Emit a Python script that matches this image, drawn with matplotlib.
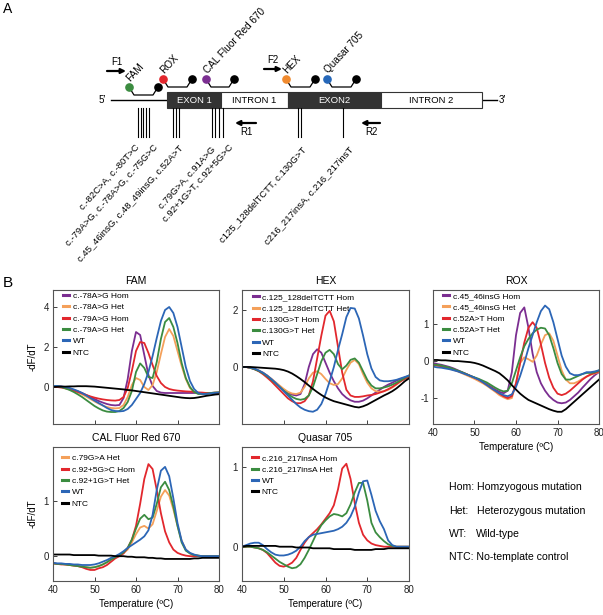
import numpy as np
import matplotlib
matplotlib.use('Agg')
import matplotlib.pyplot as plt
from matplotlib.patches import Rectangle

plt.rcParams['font.family'] = ['Liberation Sans', 'DejaVu Sans']
plt.rcParams['axes.unicode_minus'] = False

# ---------------- data: melting curves, -dF/dT sampled every 1 degC ----------------
temps = np.arange(40, 81)

fam_labels = ['c.-78A>G Hom', 'c.-78A>G Het', 'c.-79A>G Hom', 'c.-79A>G Het', 'WT', 'NTC']
fam_78_hom = [0.05, 0.05, 0.02, -0.02, -0.08, -0.15, -0.22, -0.30, -0.40, -0.50,
              -0.60, -0.70, -0.78, -0.85, -0.90, -0.92, -0.90, -0.55, 0.40, 1.80,
              2.75, 2.60, 1.60, 0.60, 0.05, -0.20, -0.28, -0.30, -0.30, -0.30,
              -0.30, -0.30, -0.30, -0.30, -0.30, -0.30, -0.30, -0.30, -0.30, -0.28, -0.27]
fam_78_het = [0.05, 0.05, 0.02, -0.03, -0.10, -0.18, -0.27, -0.37, -0.48, -0.60,
              -0.72, -0.83, -0.93, -1.00, -1.05, -1.07, -1.05, -0.90, -0.50, 0.10,
              0.45, 0.35, 0.00, -0.15, 0.10, 0.75, 1.65, 2.50, 2.90, 2.55,
              1.80, 1.05, 0.40, -0.05, -0.25, -0.32, -0.33, -0.32, -0.30, -0.28, -0.27]
fam_79_hom = [0.03, 0.00, -0.03, -0.07, -0.12, -0.18, -0.25, -0.32, -0.40, -0.47,
              -0.53, -0.58, -0.62, -0.65, -0.67, -0.68, -0.65, -0.50, -0.05, 0.80,
              1.80, 2.25, 2.20, 1.70, 1.10, 0.55, 0.20, 0.00, -0.10, -0.15,
              -0.18, -0.20, -0.22, -0.23, -0.25, -0.27, -0.28, -0.30, -0.30, -0.30, -0.30]
fam_79_het = [0.05, 0.05, 0.00, -0.07, -0.15, -0.25, -0.37, -0.50, -0.65, -0.80,
              -0.95, -1.07, -1.17, -1.23, -1.25, -1.25, -1.20, -1.05, -0.75, -0.20,
              0.75, 1.18, 0.95, 0.50, 0.45, 1.25, 2.40, 3.25, 3.45, 3.00,
              2.20, 1.20, 0.45, 0.00, -0.25, -0.35, -0.35, -0.33, -0.30, -0.28, -0.27]
fam_wt = [0.05, 0.05, 0.03, 0.00, -0.05, -0.12, -0.20, -0.30, -0.42, -0.55,
          -0.68, -0.80, -0.92, -1.05, -1.15, -1.20, -1.22, -1.20, -1.10, -0.90,
          -0.60, -0.30, 0.15, 0.75, 1.55, 2.45, 3.30, 3.85, 4.00, 3.70,
          3.00, 2.00, 1.00, 0.30, -0.10, -0.30, -0.35, -0.35, -0.32, -0.30, -0.28]
fam_ntc = [0.00, 0.01, 0.02, 0.02, 0.03, 0.03, 0.04, 0.04, 0.04, 0.03,
           0.02, 0.00, -0.02, -0.04, -0.06, -0.08, -0.10, -0.12, -0.15, -0.17,
           -0.20, -0.23, -0.26, -0.29, -0.32, -0.35, -0.38, -0.41, -0.44, -0.47,
           -0.50, -0.53, -0.55, -0.56, -0.55, -0.52, -0.48, -0.44, -0.41, -0.38, -0.36]

hex_labels = ['c.125_128delTCTT Hom', 'c.125_128delTCTT Het', 'c.130G>T Hom', 'c.130G>T Het', 'WT', 'NTC']
hex_del_hom = [0.00, 0.00, -0.03, -0.07, -0.13, -0.20, -0.30, -0.42, -0.55, -0.68,
               -0.80, -0.90, -0.97, -1.00, -0.95, -0.60, 0.00, 0.45, 0.62, 0.50,
               0.15, -0.20, -0.50, -0.75, -0.95, -1.08, -1.17, -1.22, -1.22, -1.18,
               -1.10, -1.00, -0.90, -0.80, -0.70, -0.62, -0.55, -0.48, -0.42, -0.37, -0.32]
hex_del_het = [0.00, 0.00, -0.03, -0.07, -0.13, -0.20, -0.30, -0.41, -0.53, -0.65,
               -0.77, -0.87, -0.93, -0.95, -0.90, -0.70, -0.40, -0.20, -0.15, -0.25,
               -0.42, -0.57, -0.63, -0.60, -0.40, -0.10, 0.15, 0.25, 0.10, -0.25,
               -0.55, -0.75, -0.85, -0.87, -0.85, -0.80, -0.72, -0.62, -0.50, -0.40, -0.30]
hex_130_hom = [0.00, 0.00, -0.03, -0.08, -0.15, -0.25, -0.37, -0.50, -0.65, -0.80,
               -0.95, -1.10, -1.20, -1.27, -1.27, -1.20, -1.00, -0.50, 0.30, 1.10,
               1.80, 1.97, 1.60, 0.70, -0.20, -0.80, -1.00, -1.05, -1.05, -1.03,
               -1.00, -0.98, -0.95, -0.90, -0.85, -0.78, -0.70, -0.60, -0.50, -0.42, -0.35]
hex_130_het = [0.00, 0.00, -0.03, -0.08, -0.14, -0.22, -0.32, -0.44, -0.57, -0.70,
               -0.83, -0.95, -1.05, -1.12, -1.15, -1.12, -1.00, -0.70, -0.25, 0.20,
               0.50, 0.60, 0.45, 0.10, -0.08, 0.05, 0.25, 0.30, 0.15, -0.15,
               -0.45, -0.65, -0.75, -0.75, -0.72, -0.68, -0.62, -0.55, -0.47, -0.38, -0.30]
hex_wt = [0.00, 0.00, -0.02, -0.06, -0.12, -0.20, -0.30, -0.42, -0.55, -0.70,
          -0.85, -1.00, -1.15, -1.30, -1.42, -1.50, -1.55, -1.57, -1.50, -1.30,
          -0.95, -0.50, 0.00, 0.60, 1.15, 1.75, 2.07, 2.05, 1.70, 1.10,
          0.45, -0.05, -0.35, -0.47, -0.50, -0.50, -0.48, -0.45, -0.40, -0.35, -0.30]
hex_ntc = [0.00, 0.00, 0.00, -0.01, -0.02, -0.03, -0.04, -0.05, -0.06, -0.08,
           -0.11, -0.16, -0.23, -0.32, -0.42, -0.53, -0.65, -0.77, -0.88, -0.98,
           -1.07, -1.14, -1.20, -1.24, -1.28, -1.32, -1.36, -1.40, -1.42, -1.38,
           -1.32, -1.24, -1.16, -1.08, -1.00, -0.93, -0.85, -0.75, -0.63, -0.50, -0.40]

rox_labels = ['c.45_46insG Hom', 'c.45_46insG Het', 'c.52A>T Hom', 'c.52A>T Het', 'WT', 'NTC']
rox_ins_hom = [-0.05, -0.08, -0.10, -0.13, -0.16, -0.20, -0.25, -0.30, -0.35, -0.40,
               -0.45, -0.50, -0.57, -0.63, -0.70, -0.77, -0.83, -0.87, -0.80, -0.30,
               0.70, 1.30, 1.45, 0.90, 0.20, -0.30, -0.60, -0.80, -0.95, -1.05,
               -1.12, -1.14, -1.12, -1.05, -0.95, -0.85, -0.72, -0.60, -0.48, -0.38, -0.30]
rox_ins_het = [-0.10, -0.12, -0.14, -0.17, -0.20, -0.24, -0.28, -0.33, -0.38, -0.43,
               -0.48, -0.54, -0.60, -0.67, -0.75, -0.83, -0.92, -0.98, -1.03, -1.00,
               -0.60, -0.05, 0.10, 0.05, -0.02, 0.15, 0.45, 0.70, 0.75, 0.55,
               0.15, -0.25, -0.50, -0.60, -0.60, -0.55, -0.48, -0.42, -0.37, -0.33, -0.30]
rox_52_hom = [-0.10, -0.12, -0.14, -0.17, -0.20, -0.23, -0.27, -0.31, -0.35, -0.40,
              -0.45, -0.50, -0.57, -0.64, -0.72, -0.80, -0.88, -0.95, -1.00, -0.95,
              -0.60, -0.05, 0.50, 0.90, 1.05, 0.90, 0.45, -0.05, -0.45, -0.72,
              -0.88, -0.92, -0.88, -0.80, -0.70, -0.60, -0.50, -0.42, -0.36, -0.32, -0.28]
rox_52_het = [-0.10, -0.10, -0.12, -0.15, -0.18, -0.22, -0.26, -0.30, -0.35, -0.40,
              -0.44, -0.48, -0.53, -0.58, -0.65, -0.72, -0.78, -0.82, -0.80, -0.60,
              -0.25, 0.10, 0.40, 0.60, 0.75, 0.85, 0.90, 0.88, 0.70, 0.35,
              -0.05, -0.35, -0.50, -0.50, -0.45, -0.40, -0.35, -0.32, -0.32, -0.30, -0.25]
rox_wt = [-0.15, -0.17, -0.18, -0.20, -0.22, -0.25, -0.28, -0.32, -0.36, -0.40,
          -0.45, -0.50, -0.57, -0.65, -0.73, -0.80, -0.87, -0.92, -0.95, -0.90,
          -0.70, -0.40, -0.05, 0.35, 0.70, 1.05, 1.35, 1.50, 1.40, 1.05,
          0.60, 0.15, -0.15, -0.33, -0.38, -0.38, -0.35, -0.30, -0.30, -0.28, -0.25]
rox_ntc = [0.03, 0.03, 0.02, 0.02, 0.01, 0.00, 0.00, -0.01, -0.02, -0.03,
           -0.05, -0.08, -0.12, -0.17, -0.22, -0.27, -0.33, -0.42, -0.52, -0.65,
           -0.77, -0.88, -0.97, -1.05, -1.10, -1.15, -1.20, -1.25, -1.30, -1.34,
           -1.37, -1.37, -1.30, -1.20, -1.10, -1.00, -0.90, -0.80, -0.70, -0.60, -0.50]

cal_labels = ['c.79G>A Het', 'c.92+5G>C Hom', 'c.92+1G>T Het', 'WT', 'NTC']
cal_79_het = [-0.13, -0.14, -0.14, -0.15, -0.16, -0.17, -0.18, -0.19, -0.20, -0.21,
              -0.20, -0.18, -0.15, -0.11, -0.06, -0.02, 0.02, 0.06, 0.12, 0.25,
              0.40, 0.52, 0.55, 0.50, 0.58, 0.82, 1.08, 1.20, 1.10, 0.85,
              0.55, 0.28, 0.12, 0.05, 0.02, 0.01, 0.00, 0.00, 0.00, 0.00, 0.00]
cal_92_5_hom = [-0.13, -0.14, -0.15, -0.15, -0.16, -0.17, -0.18, -0.20, -0.23, -0.25,
                -0.25, -0.22, -0.20, -0.16, -0.10, -0.04, 0.00, 0.05, 0.15, 0.30,
                0.55, 0.95, 1.40, 1.67, 1.58, 1.20, 0.78, 0.45, 0.25, 0.12,
                0.06, 0.03, 0.01, 0.00, 0.00, 0.00, 0.00, 0.00, 0.00, 0.00, 0.00]
cal_92_1_het = [-0.13, -0.14, -0.14, -0.15, -0.16, -0.17, -0.18, -0.19, -0.20, -0.21,
                -0.20, -0.18, -0.15, -0.11, -0.06, -0.02, 0.02, 0.07, 0.15, 0.30,
                0.50, 0.68, 0.75, 0.67, 0.70, 0.95, 1.25, 1.35, 1.20, 0.90,
                0.55, 0.25, 0.10, 0.05, 0.02, 0.01, 0.00, 0.00, 0.00, 0.00, 0.00]
cal_wt = [-0.12, -0.13, -0.13, -0.14, -0.14, -0.15, -0.15, -0.16, -0.16, -0.16,
          -0.15, -0.13, -0.10, -0.07, -0.03, 0.00, 0.04, 0.09, 0.15, 0.20,
          0.25, 0.30, 0.36, 0.47, 0.75, 1.20, 1.55, 1.62, 1.45, 1.05,
          0.60, 0.28, 0.12, 0.06, 0.03, 0.01, 0.00, 0.00, 0.00, 0.00, 0.00]
cal_ntc = [0.03, 0.03, 0.03, 0.03, 0.03, 0.02, 0.02, 0.02, 0.02, 0.02,
           0.02, 0.01, 0.01, 0.01, 0.01, 0.00, 0.00, 0.00, -0.01, -0.01,
           -0.02, -0.02, -0.02, -0.03, -0.03, -0.04, -0.04, -0.05, -0.05, -0.05,
           -0.05, -0.05, -0.05, -0.05, -0.04, -0.04, -0.03, -0.03, -0.03, -0.03, -0.03]

qsr_labels = ['c.216_217insA Hom', 'c.216_217insA Het', 'WT', 'NTC']
qsr_hom = [0.00, 0.00, 0.00, -0.01, -0.02, -0.04, -0.08, -0.14, -0.20, -0.24,
           -0.25, -0.23, -0.20, -0.14, -0.04, 0.05, 0.12, 0.17, 0.22, 0.28,
           0.35, 0.42, 0.52, 0.72, 0.98, 1.04, 0.85, 0.55, 0.30, 0.15,
           0.08, 0.04, 0.02, 0.01, 0.00, 0.00, 0.00, 0.00, 0.00, 0.00, 0.00]
qsr_het = [0.00, 0.00, 0.00, -0.01, -0.02, -0.04, -0.07, -0.11, -0.15, -0.19,
           -0.22, -0.25, -0.27, -0.26, -0.22, -0.14, -0.04, 0.07, 0.18, 0.27,
           0.33, 0.38, 0.41, 0.40, 0.38, 0.42, 0.53, 0.68, 0.80, 0.80,
           0.58, 0.30, 0.18, 0.12, 0.07, 0.03, 0.01, 0.00, 0.00, 0.00, 0.00]
qsr_wt = [0.00, 0.02, 0.04, 0.05, 0.05, 0.02, -0.03, -0.07, -0.10, -0.11,
          -0.11, -0.10, -0.08, -0.05, 0.00, 0.07, 0.12, 0.15, 0.16, 0.17,
          0.18, 0.19, 0.20, 0.22, 0.25, 0.30, 0.38, 0.50, 0.68, 0.82,
          0.83, 0.65, 0.45, 0.32, 0.22, 0.08, 0.02, 0.00, 0.00, 0.00, 0.00]
qsr_ntc = [0.00, 0.01, 0.01, 0.01, 0.01, 0.01, 0.01, 0.01, 0.01, 0.00,
           0.00, 0.00, 0.00, -0.01, -0.01, -0.01, -0.01, -0.02, -0.02, -0.02,
           -0.02, -0.02, -0.03, -0.03, -0.03, -0.03, -0.03, -0.04, -0.04, -0.04,
           -0.04, -0.04, -0.03, -0.03, -0.03, -0.02, -0.02, -0.02, -0.02, -0.02, -0.02]

# ---------------- data: gene diagram ----------------
region_names = ['EXON 1', 'INTRON 1', 'EXON2', 'INTRON 2']
region_edges = [167, 221, 288, 381, 482]
region_is_exon = [True, False, True, False]

probe_names = ['FAM', 'ROX', 'CAL Fluor Red 670', 'HEX', 'Quasar 705']
probe_left = [129, 163, 206, 286, 327]
probe_right = [158, 192, 234, 315, 356]
probe_level = [87, 79, 79, 79, 79]

primer_names = ['F1', 'F2', 'R1', 'R2']
primer_from = [107, 264, 256, 380]
primer_to = [126, 282, 235, 361]
primer_level = [71, 69, 123, 123]

mutation_ticks = [138, 140.5, 143, 145.5, 149, 172.7, 175.7, 179.3,
                  212.3, 215, 219, 222.7, 297.7, 301, 343.3]
mutation_labels = ['c.-82C>A, c.-80T>C', 'c.-79A>G, c.-78A>G, c.-75G>C',
                   'c.45_46insG, c.48_49insG, c.52A>T', 'c.79G>A, c.91A>G',
                   'c.92+1G>T, c.92+5G>C', 'c125_128delTCTT, c.130G>T',
                   'c216_217insA, c.216_217insT']
mutation_label_x = [135, 152.5, 178.5, 211, 228, 301.5, 348.5]
mutation_label_y = [143, 143, 143, 145, 143, 145, 145]

key_abbr = ['Hom:', 'Het:', 'WT:', 'NTC:']
key_text = ['Homzyogous mutation', 'Heterozygous mutation', 'Wild-type', 'No-template control']

# ---------------- styles ----------------
PURPLE, ORANGE, RED, GREEN, BLUE, BLACK = '#7B2E91', '#F4A05A', '#E2272D', '#3B8C40', '#2C66B6', '#000000'
W, H = 603, 615

fig = plt.figure(figsize=(6.03, 6.15), dpi=100)
ax0 = fig.add_axes([0, 0, 1, 1])
ax0.set_xlim(0, W)
ax0.set_ylim(H, 0)
ax0.axis('off')

ax0.text(3, 9, 'A', fontsize=10, ha='left', va='center')
ax0.text(3, 283, 'B', fontsize=11, ha='left', va='center')

# backbone and regions
ax0.plot([111, 497], [100, 100], color='black', lw=1.0, zorder=1)
ax0.text(106, 100, '5\u2032', fontsize=7, ha='right', va='center')
ax0.text(499, 100, '3\u2032', fontsize=7, ha='left', va='center')
for name, x0, x1, ex in zip(region_names, region_edges[:-1], region_edges[1:], region_is_exon):
    ax0.add_patch(Rectangle((x0, 92), x1 - x0, 16, facecolor='#333333' if ex else 'white',
                            edgecolor='#333333', lw=0.8, zorder=2))
    ax0.text((x0 + x1) / 2, 100.5, name, color='white' if ex else 'black', fontsize=6.8,
             ha='center', va='center', zorder=3)

# probes
dot_colors = [GREEN, RED, PURPLE, '#F08A2E', '#2567B9']
for name, xl, xr, yl, c in zip(probe_names, probe_left, probe_right, probe_level, dot_colors):
    ax0.plot([xl, xl + 5, xr - 5, xr], [yl, yl + 8, yl + 8, yl], color='black', lw=0.9, zorder=3)
    ax0.plot([xl], [yl], 'o', color=c, ms=5.2, zorder=4)
    ax0.plot([xr], [yl], 'o', color='black', ms=5.2, zorder=4)
    ax0.text(xl + 3, yl - 4, name, rotation=47, rotation_mode='anchor', ha='left', va='bottom',
             fontsize=7.2)

# primers
for name, a, b, y in zip(primer_names, primer_from, primer_to, primer_level):
    ax0.annotate('', xy=(b, y), xytext=(a, y),
                 arrowprops=dict(arrowstyle='-|>', color='black', lw=1.6, mutation_scale=7,
                                 shrinkA=0, shrinkB=0))
    ty = y - 9 if y < 100 else y + 9
    ax0.text((a + b) / 2 + (0 if y < 100 else 1), ty, name, fontsize=7, ha='center', va='center')

# mutation ticks and labels
for x in mutation_ticks:
    ax0.plot([x, x], [108, 137], color='black', lw=0.8)
for lab, x, y in zip(mutation_labels, mutation_label_x, mutation_label_y):
    ax0.text(x, y, lab, rotation=48, rotation_mode='anchor', ha='right', va='top', fontsize=6.8)

# key text
key_y = [487, 511, 534, 557]
key_x2 = [None, 477, 476, None]
for ab, tx, y, x2 in zip(key_abbr, key_text, key_y, key_x2):
    if x2 is None:
        ax0.text(449, y, ab + ' ' + tx, fontsize=7.6, ha='left', va='center')
    else:
        ax0.text(449, y, ab, fontsize=7.6, ha='left', va='center')
        ax0.text(x2, y, tx, fontsize=7.6, ha='left', va='center')


def make_panel(rect_px, title, series, labels, colors, ylim, yticks,
               xlabels=False, ylabel=False, leg_anchor=(0.06, 0.99)):
    x, top, w, bottom = rect_px
    ax = fig.add_axes([x / W, 1 - bottom / H, w / W, (bottom - top) / H])
    for ys, lab, c in zip(series, labels, colors):
        ax.plot(temps, ys, color=c, lw=1.3, label=lab)
    ax.set_xlim(40, 80)
    ax.set_ylim(*ylim)
    ax.set_xticks([40, 50, 60, 70, 80])
    ax.set_yticks(yticks)
    ax.tick_params(direction='in', length=3, width=0.6, labelsize=7, colors='#222222', pad=3)
    if not xlabels:
        ax.tick_params(labelbottom=False)
    else:
        ax.set_xlabel('Temperature (\u00baC)', fontsize=7, labelpad=3)
    if ylabel:
        ax.set_ylabel('-dF/dT', fontsize=7, labelpad=4)
    for s in ax.spines.values():
        s.set_linewidth(0.8)
        s.set_color('#555555')
    ax.set_title(title, fontsize=7.5, pad=4)
    leg = ax.legend(loc='upper left', bbox_to_anchor=leg_anchor, frameon=False, fontsize=6,
                    handlelength=0.7, handletextpad=0.45, labelspacing=0.42,
                    borderaxespad=0, borderpad=0)
    for h in leg.get_lines():
        h.set_linewidth(2.2)
    return ax


six = [PURPLE, ORANGE, RED, GREEN, BLUE, BLACK]
make_panel((53, 290, 166, 424), 'FAM',
           [fam_78_hom, fam_78_het, fam_79_hom, fam_79_het, fam_wt, fam_ntc],
           fam_labels, six, (-1.85, 4.85), [0, 2, 4], ylabel=True, leg_anchor=(0.06, 0.985))
make_panel((242, 290, 167, 424), 'HEX',
           [hex_del_hom, hex_del_het, hex_130_hom, hex_130_het, hex_wt, hex_ntc],
           hex_labels, six, (-2.0, 2.7), [0, 2], leg_anchor=(0.065, 0.975))
make_panel((433, 290, 166, 424), 'ROX',
           [rox_ins_hom, rox_ins_het, rox_52_hom, rox_52_het, rox_wt, rox_ntc],
           rox_labels, six, (-1.7, 1.92), [-1, 0, 1], xlabels=True, leg_anchor=(0.06, 0.985))
make_panel((53, 447, 166, 581), 'CAL Fluor Red 670',
           [cal_79_het, cal_92_5_hom, cal_92_1_het, cal_wt, cal_ntc],
           cal_labels, [ORANGE, RED, GREEN, BLUE, BLACK], (-0.45, 1.98), [0, 1],
           xlabels=True, ylabel=True, leg_anchor=(0.055, 0.945))
make_panel((242, 447, 167, 581), 'Quasar 705',
           [qsr_hom, qsr_het, qsr_wt, qsr_ntc],
           qsr_labels, [RED, GREEN, BLUE, BLACK], (-0.43, 1.25), [0, 1],
           xlabels=True, leg_anchor=(0.06, 0.945))

fig.savefig('out.png', dpi=100)
